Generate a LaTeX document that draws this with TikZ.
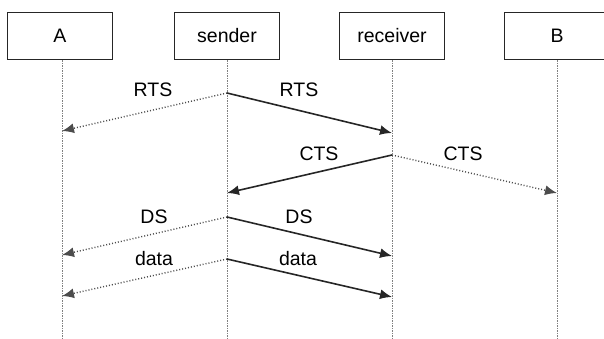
\documentclass[tikz,border=0pt]{standalone}
\usepackage{fontspec}
\setmainfont{Liberation Sans}
\usetikzlibrary{arrows.meta}
\begin{document}
\begin{tikzpicture}[x=1pt,y=-1pt,
  party/.style={draw=black!85,line width=1.6pt,minimum width=105pt,minimum height=47pt,inner sep=0pt,font=\fontsize{19.5}{22}\selectfont},
  life/.style={draw=black!50,line width=0.6pt,dash pattern=on 1.5pt off 1pt},
  msg/.style={draw=black!85,line width=1.6pt,-{Latex[length=12pt,width=10pt]}},
  overheard/.style={draw=black!70,line width=1.4pt,dash pattern=on 1pt off 2pt,-{Latex[length=12pt,width=10pt]}},
  lbl/.style={font=\fontsize{19.5}{22}\selectfont,inner sep=0pt}]
\useasboundingbox (0,0) rectangle (604,339);
% participants
\node[party] (A) at (60,36) {A};
\node[party] (S) at (227,36) {sender};
\node[party] (R) at (392,36) {receiver};
\node[party] (B) at (557,36) {B};
% lifelines
\coordinate (Aend) at (62,339);
\coordinate (Send) at (227,339);
\coordinate (Rend) at (392,339);
\coordinate (Bend) at (557,339);
\draw[life] (A.south -| Aend) -- (Aend);
\draw[life] (S.south) -- (Send);
\draw[life] (R.south) -- (Rend);
\draw[life] (B.south) -- (Bend);
% message points on lifelines
\coordinate (s1) at (227,93);  \coordinate (a1) at (62,131);  \coordinate (r1) at (392,133);
\coordinate (r2) at (392,155); \coordinate (s2) at (227,193); \coordinate (b2) at (557,193);
\coordinate (s3) at (227,217); \coordinate (a3) at (62,255);  \coordinate (r3) at (392,256);
\coordinate (s4) at (227,259); \coordinate (a4) at (62,296);  \coordinate (r4) at (392,297);
% RTS
\draw[overheard] (s1) -- (a1);
\draw[msg] (s1) -- (r1);
\node[lbl] (rtsA) at (153,90) {RTS};
\node[lbl] (rtsR) at (299,90) {RTS};
% CTS
\draw[msg] (r2) -- (s2);
\draw[overheard] (r2) -- (b2);
\node[lbl] (ctsS) at (319,154) {CTS};
\node[lbl] (ctsB) at (463,154) {CTS};
% DS
\draw[overheard] (s3) -- (a3);
\draw[msg] (s3) -- (r3);
\node[lbl] (dsA) at (154,217) {DS};
\node[lbl] (dsR) at (299,217) {DS};
% data
\draw[overheard] (s4) -- (a4);
\draw[msg] (s4) -- (r4);
\node[lbl] (dataA) at (154,259) {data};
\node[lbl] (dataR) at (298,259) {data};
\end{tikzpicture}
\end{document}
